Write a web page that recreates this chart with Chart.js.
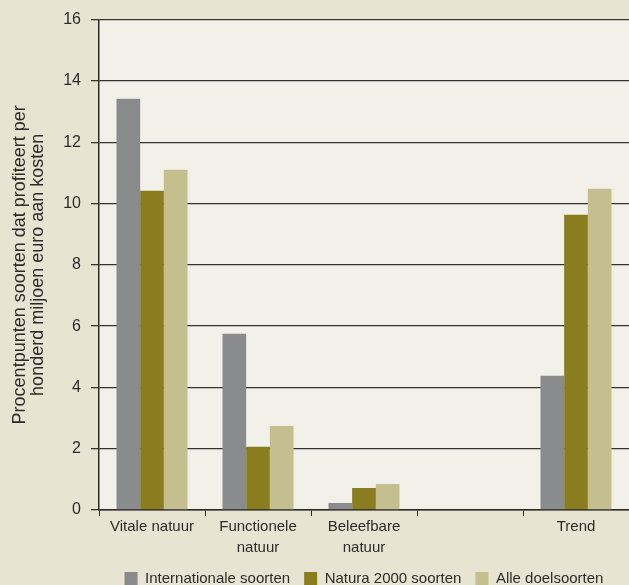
<!DOCTYPE html>
<html>
<head>
<meta charset="utf-8">
<script src="https://cdn.jsdelivr.net/npm/chart.js@4/dist/chart.umd.min.js"></script>
<style>
  html, body { margin: 0; padding: 0; background: #e8e4d2; }
  #wrap { width: 629px; height: 585px; }
</style>
</head>
<body>
<div id="wrap"><canvas id="chart" width="629" height="585"></canvas></div>
<script>
var categories = ['Vitale natuur', ['Functionele', 'natuur'], ['Beleefbare', 'natuur'], '', 'Trend'];
var internationaal = [13.42, 5.75, 0.23, null, 4.38];
var natura2000 = [10.42, 2.06, 0.72, null, 9.63];
var alleDoelsoorten = [11.1, 2.74, 0.85, null, 10.48];
var yTicks = [0, 2, 4, 6, 8, 10, 12, 14, 16];

Chart.defaults.font.family = "'Liberation Sans', Arial, sans-serif";
Chart.defaults.color = '#2b2b2b';

// fill the plot area with its own lighter colour
var plotBackground = {
    id: 'plotBackground',
    beforeDraw: function(chart) {
        var a = chart.chartArea;
        var c = chart.ctx;
        c.save();
        c.fillStyle = '#f2f1e9';
        c.fillRect(a.left, a.top, a.right - a.left, a.bottom - a.top);
        c.restore();
    }
};

var ctx = document.getElementById('chart').getContext('2d');
new Chart(ctx, {
    type: 'bar',
    data: {
        labels: categories,
        datasets: [{
            label: 'Internationale soorten',
            data: internationaal,
            backgroundColor: '#8a8b8d'
        }, {
            label: 'Natura 2000 soorten',
            data: natura2000,
            backgroundColor: '#8a7d20'
        }, {
            label: 'Alle doelsoorten',
            data: alleDoelsoorten,
            backgroundColor: '#c5bf8f'
        }]
    },
    options: {
        responsive: false,
        animation: false,
        layout: { padding: { top: 10, right: 0, left: 11, bottom: -11 } },
        datasets: { bar: { categoryPercentage: 0.67, barPercentage: 1.0 } },
        plugins: {
            tooltip: { enabled: false },
            legend: {
                position: 'bottom',
                fullSize: false,
                labels: {
                    boxWidth: 13,
                    boxHeight: 13,
                    padding: 14,
                    font: { size: 15 },
                    color: '#2b2b2b'
                }
            }
        },
        scales: {
            x: {
                afterFit: function(scale) { scale.height = 47; },
                grid: {
                    drawOnChartArea: false,
                    drawTicks: true,
                    tickLength: 6,
                    color: '#2b2b2b'
                },
                border: { color: '#2b2b2b', width: 1.5 },
                ticks: {
                    font: { size: 15, lineHeight: 1.4 },
                    color: '#2b2b2b',
                    maxRotation: 0,
                    autoSkip: false,
                    padding: 0
                }
            },
            y: {
                min: 0,
                max: 16,
                afterBuildTicks: function(scale) {
                    scale.ticks = yTicks.map(function(v) { return { value: v }; });
                },
                afterFit: function(scale) { scale.width = 88; },
                grid: {
                    color: '#333333',
                    lineWidth: 1.3,
                    tickLength: 8
                },
                border: { color: '#2b2b2b', width: 1.5 },
                ticks: {
                    font: { size: 16 },
                    color: '#2b2b2b',
                    padding: 10
                },
                title: {
                    display: true,
                    text: ['Procentpunten soorten dat profiteert per', 'honderd miljoen euro aan kosten'],
                    font: { size: 18, lineHeight: 1.0 },
                    color: '#2b2b2b',
                    padding: { top: 0, bottom: 0 }
                }
            }
        }
    },
    plugins: [plotBackground]
});
</script>
</body>
</html>
